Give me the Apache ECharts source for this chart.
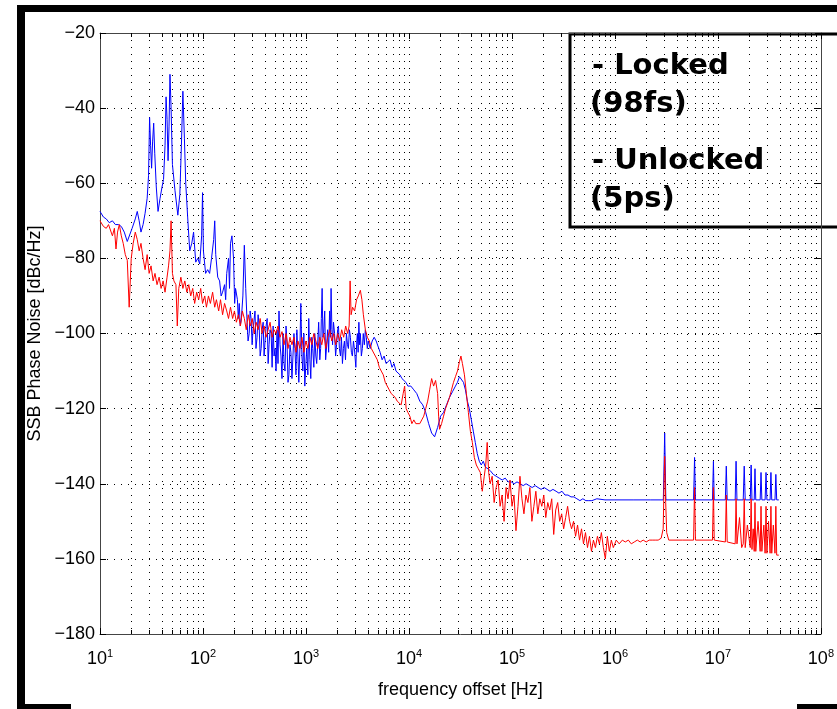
<!DOCTYPE html>
<html>
<head>
<meta charset="utf-8">
<script src="https://cdn.jsdelivr.net/npm/echarts@6/dist/echarts.min.js"></script>
<style>
  html, body { margin: 0; padding: 0; background: #fff; }
  #chart { width: 837px; height: 709px; }
</style>
</head>
<body>
<div id="chart"></div>
<script>
// SSB phase noise of the oscillator, free-running vs. locked, [frequency offset Hz, dBc/Hz]
const unlockedTrace = [
  [10,-67.5],[10.8,-69],[11.5,-69.5],[12.3,-70.5],[13.2,-70],[14.1,-71],[15.1,-71],[16.1,-71.5],
  [17.2,-73],[18.4,-75.5],[19.2,-75],[20.5,-72],[22,-69.5],[23,-67.5],[24,-70],[25,-73],[26.2,-71],
  [27.4,-68],[28.7,-64],[29.6,-58],[30.3,-42.5],[31,-50],[31.7,-56],[32.4,-49],[33.2,-44],[34,-52],
  [35.2,-61],[36.6,-67.5],[38.3,-64],[40,-61],[41.4,-59],[42.8,-50],[43.8,-37],[44.8,-43],[45.8,-54],
  [46.8,-45],[47.8,-31],[49,-40],[50.5,-55],[53.5,-62],[57,-68.5],[59.6,-63],[61.7,-50],[63.8,-35.5],
  [66,-48],[68,-60],[71,-69],[74.3,-78],[77.8,-76],[81,-73],[85,-81],[89,-80],[93,-81.5],[97,-74],
  [99,-62.5],[101,-78],[106,-84],[111,-83],[116,-84],[121,-80],[127,-75],[130,-70],[133,-79],[139,-85],
  [145,-86],[150,-90],[155,-89],[162,-87],[166,-91],[170,-84],[177,-80],[181,-88],[185,-76],[191,-74],
  [198,-80],[203,-92],[207,-88],[216,-91],[220,-96],[225,-92],[230,-98],[236,-96],[244,-90],[252,-76.5],
  [260,-88],[268,-97],[274,-102],[281,-100],[287,-94],[293,-96],[300,-103],[306,-99],[320,-94],[327,-104],
  [335,-101],[343,-95],[351,-98],[359,-106],[367,-104],[375,-99],[384,-97],[392,-106],[401,-102],[410,-98],
  [420,-96],[429,-108],[438,-103],[448,-99],[459,-100],[469,-109],[480,-98],[490,-106],
  [501,-104],[512,-110],[524,-99],[535,-108],[547,-94],[560,-103],[572,-106],[585,-112],[599,-100],
  [612,-108],[626,-110],[640,-98],[654,-102],[669,-113],[683,-111],[699,-103],[714,-105],[731,-112],
  [747,-112],[764,-100],[781,-104],[799,-111],[816,-99],[835,-106],[852,-113],[873,-104],[891,-92],
  [913,-106],[932,-110],[954,-100],[974,-114],[998,-108],[1018,-104],[1043,-111],[1064,-96],[1091,-107],
  [1113,-112],[1140,-101],[1163,-104],[1192,-109],[1216,-100],[1246,-106],[1271,-108],[1303,-102],
  [1328,-97],[1362,-107],[1388,-104],[1410,-96],[1435,-88],[1460,-101],[1484,-100],[1520,-94],
  [1552,-107],[1590,-103],[1622,-99],[1660,-105],[1695,-94],[1725,-101],[1753,-88],[1785,-99],
  [1812,-103],[1850,-97],[1895,-100],[1940,-106],[1980,-103],[2030,-99],[2068,-98],[2110,-104],
  [2163,-106],[2210,-101],[2260,-108],[2310,-104],[2363,-102],[2420,-107],[2470,-100],[2530,-103],
  [2582,-104],[2640,-99],[2700,-101],[2760,-105],[2822,-106],[2890,-102],[2950,-104],
  [3050,-109],[3100,-103],[3155,-100],[3210,-105],[3262,-97],[3320,-103],[3375,-100],[3450,-106],
  [3528,-104],[3600,-100],[3688,-103],[3770,-99],[3855,-101],[3940,-104],[4022,-102],
  [4205,-104],[4395,-102],[4594,-101],[4803,-102],[5020,-102.5],[5248,-105],[5486,-107],[5735,-106],
  [5995,-108],[6266,-108],[6550,-107],[6847,-109],[7157,-108],[7482,-110],[7820,-109.5],[8175,-111],
  [8546,-112],[8934,-112],[9338,-113],[9760,-114],[10430,-114],[11150,-115],[11910,-116],[12730,-118],
  [13600,-119],[14530,-121],[15530,-124],[16600,-126.5],[17740,-127.5],[18980,-125],[20280,-122],
  [21670,-121],[23160,-119],[24750,-117],[26450,-115.5],[28270,-114],[29570,-113],[30920,-111.5],
  [32330,-111],[33800,-113],[35340,-115],[36900,-118],[38560,-120],[40310,-123],[42130,-126],
  [44050,-129],[46060,-132],[48150,-134],[50340,-135],[52640,-134],[55030,-135.5],[57490,-136],
  [61500,-136.5],[65800,-137.5],[70300,-138],[75200,-138.5],[80400,-139],[86000,-138.5],[91900,-139.5],
  [98300,-139.5],[105100,-140],[112000,-139.5],[120000,-140],[128500,-140.5],[137000,-140],
  [147000,-140.5],[157000,-141],[168000,-140.5],[179000,-141],[192000,-141.5],[205000,-141],
  [219000,-141.5],[234000,-142],[250000,-141.5],[268000,-142],[286000,-142.5],[306000,-142],
  [327000,-143],[350000,-143],[374000,-143.5],[400000,-143.5],[427000,-144],[457000,-144.5],
  [488000,-144],[522000,-144.5],[558000,-144.5],[597000,-144.5],[667000,-144],[800000,-144.3],
  [1000000,-144.3],[1500000,-144.3],[2200000,-144.3],[2950000,-144.3],[3040000,-126.5],[3120000,-144.3],
  [5800000,-144.3],[5930000,-133],[6050000,-144.3],[8850000,-144.3],[9040000,-134],[9200000,-144.3],
  [11800000,-144.3],[12050000,-135.3],[12300000,-144.3],[14700000,-144.3],[15000000,-134],[15300000,-144.3],
  [17600000,-144.3],[18000000,-135.3],[18400000,-144.3],[20600000,-144.3],[21000000,-135],[21400000,-144.3],
  [22500000,-144.3],[22900000,-136],[23300000,-144.3],[25700000,-144.3],[26200000,-137],[26700000,-144.3],
  [28700000,-144.3],[29300000,-137],[29900000,-144.3],[32100000,-144.3],[32700000,-137],[33300000,-144.3],
  [35800000,-144.3],[36500000,-137.5],[37200000,-144.3],[39000000,-144.3]
];

const lockedTrace = [
  [10,-70],[10.8,-71.5],[11.5,-72],[12.1,-71],[12.6,-71.5],[13.2,-74],[13.8,-72],[14.3,-77.5],[14.8,-73],
  [15.4,-71],[16.1,-74],[16.8,-76],[17.6,-79],[18.4,-80.5],[19.2,-93],[20.1,-80],[21,-76],[22,-73],
  [23,-75],[24,-78],[25,-76],[26.2,-80],[27.4,-83],[28.7,-79],[30,-84],[31.3,-82],[32.8,-86],[34.2,-84],
  [35.8,-87],[37.5,-85],[39.2,-88],[41,-86],[42.8,-89],[44.8,-85],[46.3,-82],[47.8,-78],[49,-70],
  [50.5,-84],[52.2,-86],[54.6,-87],[56.3,-98],[58.2,-88],[61,-85],[63.8,-88],[66.6,-86],[69.7,-89],
  [72.8,-87],[76,-90],[79.5,-88],[83,-92],[86.8,-89],[90.8,-91],[95,-88],[99,-92],[104,-90],[108,-93],
  [113,-90],[118,-92],[124,-89],[130,-93],[135,-91],[142,-94],[148,-91],[155,-95],[162,-92],[170,-94],
  [177,-96],[185,-93],[194,-96],[202,-94],[211,-97],[221,-95],[231,-98],[241,-94],[252,-96],[263,-99],
  [275,-95],[288,-98],[301,-96],[314,-100],[328,-97],[343,-99],[359,-96],[375,-100],[392,-98],[410,-101],
  [429,-99],[448,-97],[469,-101],[490,-99],[512,-100],[535,-98],[560,-101],[585,-99.5],[612,-103],
  [640,-100],[669,-104],[699,-101],[731,-103],[764,-101],[799,-105],[835,-102],[873,-104],[913,-101],
  [954,-105],[998,-102],[1043,-104],[1091,-101],[1140,-103],[1192,-100],[1246,-102],[1303,-104],
  [1362,-101],[1424,-103],[1489,-100],[1557,-104],[1627,-101],[1701,-99],[1779,-102],[1860,-100],
  [1944,-103],[2033,-100],[2125,-102],[2222,-99],[2323,-101],[2429,-98],[2539,-100],[2624,-98],
  [2683,-86],[2743,-95],[2835,-93],[2964,-94],[3099,-91],[3222,-90],[3375,-88.5],[3490,-91],[3608,-95],
  [3773,-99],[3944,-101],[4123,-102],[4311,-104],[4507,-104],[4712,-106],[4926,-107],[5150,-109],
  [5384,-110],[5629,-111],[5885,-113],[6152,-113],[6432,-115],[6725,-116],[7030,-116],[7350,-117],
  [7684,-118],[8033,-118.5],[8398,-119],[8780,-116],[9080,-114],[9390,-120],[9760,-121],[10200,-122],
  [10670,-124],[11150,-123],[11660,-124],[12180,-124.5],[12730,-124],[13310,-123],[13920,-122],
  [14530,-120],[15200,-118],[15880,-115],[16600,-112],[17350,-114],[18140,-112.5],[18980,-116],
  [19400,-122],[19830,-125.5],[20730,-124],[21670,-122],[22650,-120],[23690,-118.5],[24750,-117],
  [25880,-115],[27060,-113],[28270,-111.5],[29570,-110],[30920,-107.5],[31950,-106],[33030,-108],
  [34550,-111],[36110,-116],[37750,-121],[39460,-126],[41250,-129],[43120,-133],[45080,-135],
  [47120,-136],[49260,-137],[51500,-142],[53840,-138],[55650,-135],[57490,-129],[59430,-137],
  [61440,-140],[64230,-138],[67140,-145],[70190,-141],[73380,-139],[76710,-146],[80190,-143],
  [83830,-150],[87640,-141],[91620,-144],[95780,-139],[100100,-146],[104700,-143],[109400,-152.5],
  [114400,-146],[119600,-138],[125000,-144],[130700,-148],[136600,-143],[142800,-145],[149300,-141],
  [156100,-150],[163200,-146],[170600,-142],[178300,-148],[186400,-144],[194900,-146],[203700,-143],
  [213000,-149],[222600,-145],[232700,-147],[243300,-144],[254300,-153.5],[265900,-147],[278000,-145],
  [290600,-150],[303800,-148],[317600,-152],[332000,-149],[347100,-146],[362800,-150],[379300,-152],
  [396500,-150],[414500,-154],[433400,-151],[453100,-155],[473600,-152],[495100,-156],[517600,-153],
  [541200,-157],[565700,-154],[591400,-158],[618300,-155],[646400,-157],[675800,-154],[706500,-156],
  [738500,-153],[772100,-157],[807200,-160],[843900,-154],[882200,-158],[922300,-155],[964200,-157],
  [1030000,-155],[1100000,-156],[1180000,-155],[1260000,-155.5],[1350000,-155],[1440000,-156],
  [1540000,-155.5],[1650000,-155],[1760000,-155.5],[1880000,-155],[2010000,-155.5],[2150000,-155],
  [2300000,-155],[2460000,-155],[2630000,-155],[2810000,-154.5],[2940000,-152],[3000000,-140],
  [3040000,-132.7],[3110000,-145],[3180000,-153],[3330000,-155],[4500000,-155],[5800000,-155],
  [5930000,-141],[6050000,-155],[8850000,-155],[9040000,-141],[9200000,-155],[11800000,-155.5],
  [12050000,-143],[12300000,-155.5],[14700000,-156],[15000000,-144],[15300000,-156],[16200000,-149],
  [17000000,-157],[17600000,-156],[18000000,-144],[18400000,-157],[19300000,-151],[20600000,-157],
  [21000000,-144],[21400000,-157.5],[22000000,-152],[22500000,-158],[22900000,-145],[23300000,-158],
  [24500000,-150],[25700000,-158],[26200000,-146],[26700000,-158],[27900000,-151],[28700000,-158.5],
  [29300000,-146],[29900000,-158.5],[31000000,-150],[32100000,-158.5],[32700000,-146],[33300000,-158.5],
  [34500000,-151],[35800000,-158.5],[36500000,-146],[37200000,-159],[39000000,-159]
];

const levelTicks = [-180, -160, -140, -120, -100, -80, -60, -40, -20];
const legendLines = ['- Locked', '(98fs)', '- Unlocked', '(5ps)'];

const chart = echarts.init(document.getElementById('chart'), null, { renderer: 'canvas' });

const plotFont = 'Liberation Sans, Arial, Helvetica, sans-serif';
const gridLine = { color: '#000', width: 1, type: [1, 6] };
const boxLine = { show: true, lineStyle: { color: '#444', width: 1 } };

function decadeLabel(v) {
  const e = Math.round(Math.log10(v));
  return '{b|10}{s|' + e + '}';
}

const xBase = {
  type: 'log', logBase: 10, min: 10, max: 1e8,
  axisLine: boxLine,
  axisTick: { show: true, inside: true, length: 6, lineStyle: { color: '#000' } },
  minorTick: { show: true, splitNumber: 9, length: 4, lineStyle: { color: '#000' } }
};
const yBase = {
  type: 'value', min: levelTicks[0], max: levelTicks[levelTicks.length - 1], interval: 20,
  axisLine: boxLine,
  axisTick: { show: true, inside: true, length: 6, lineStyle: { color: '#000' } }
};

const option = {
  animation: false,
  backgroundColor: '#fff',
  grid: { left: 100, top: 33, right: 10, bottom: 75, containLabel: false },
  xAxis: [
    Object.assign({}, xBase, {
      position: 'bottom',
      name: 'frequency offset [Hz]', nameLocation: 'middle', nameGap: 47,
      nameTextStyle: { fontFamily: plotFont, fontSize: 18, color: '#000' },
      axisLabel: {
        margin: 14, formatter: decadeLabel,
        rich: {
          b: { fontFamily: plotFont, fontSize: 18, color: '#000' },
          s: { fontFamily: plotFont, fontSize: 11, color: '#000', padding: [0, 0, 11, 0] }
        }
      },
      splitLine: { show: true, lineStyle: gridLine },
      minorSplitLine: { show: true, lineStyle: gridLine }
    }),
    Object.assign({}, xBase, {
      position: 'top',
      axisLabel: { show: false },
      splitLine: { show: false },
      minorSplitLine: { show: false }
    })
  ],
  yAxis: [
    Object.assign({}, yBase, {
      position: 'left',
      name: 'SSB Phase Noise [dBc/Hz]', nameLocation: 'middle', nameGap: 55, nameRotate: 90,
      nameTextStyle: { fontFamily: plotFont, fontSize: 18, color: '#000' },
      axisLabel: {
        margin: 5, fontFamily: plotFont, fontSize: 18, color: '#000',
        formatter: (v) => String(v).replace('-', '\u2212')
      },
      splitLine: { show: true, lineStyle: gridLine }
    }),
    Object.assign({}, yBase, {
      position: 'right',
      axisLabel: { show: false },
      splitLine: { show: false }
    })
  ],
  series: [
    {
      name: 'Unlocked', type: 'line', data: unlockedTrace,
      showSymbol: false, symbol: 'none',
      lineStyle: { color: '#0000ff', width: 1 }, itemStyle: { color: '#0000ff' },
      z: 3
    },
    {
      name: 'Locked', type: 'line', data: lockedTrace,
      showSymbol: false, symbol: 'none',
      lineStyle: { color: '#ff0000', width: 1 }, itemStyle: { color: '#ff0000' },
      z: 4
    }
  ],
  graphic: [
    // slide frame
    { type: 'rect', shape: { x: 17, y: 5, width: 820, height: 7 }, style: { fill: '#000' }, z: 100 },
    { type: 'rect', shape: { x: 17, y: 5, width: 8, height: 704 }, style: { fill: '#000' }, z: 100 },
    { type: 'rect', shape: { x: 17, y: 704, width: 54, height: 5 }, style: { fill: '#000' }, z: 100 },
    { type: 'rect', shape: { x: 797, y: 704, width: 40, height: 5 }, style: { fill: '#000' }, z: 100 },
    // annotation box
    {
      type: 'group', z: 100,
      children: [
        { type: 'rect', shape: { x: 570, y: 34, width: 280, height: 193 },
          style: { fill: '#fff', stroke: '#000', lineWidth: 3 } },
        { type: 'text', x: 592, y: 66, style: { text: legendLines[0], font: 'bold 29px "DejaVu Sans"', fill: '#000', verticalAlign: 'middle' } },
        { type: 'text', x: 590, y: 104, style: { text: legendLines[1], font: 'bold 29px "DejaVu Sans"', fill: '#000', verticalAlign: 'middle' } },
        { type: 'text', x: 592, y: 161, style: { text: legendLines[2], font: 'bold 29px "DejaVu Sans"', fill: '#000', verticalAlign: 'middle' } },
        { type: 'text', x: 590, y: 199, style: { text: legendLines[3], font: 'bold 29px "DejaVu Sans"', fill: '#000', verticalAlign: 'middle' } }
      ]
    }
  ]
};

chart.setOption(option);
</script>
</body>
</html>
